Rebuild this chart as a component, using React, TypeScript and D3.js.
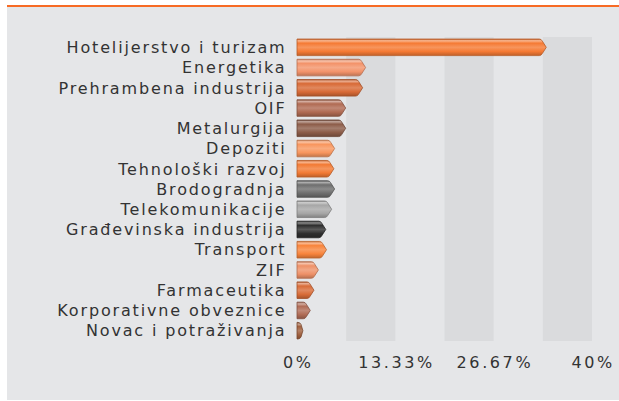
import React from "react";
import * as d3 from "d3";

const categories = [
  "Hotelijerstvo i turizam",
  "Energetika",
  "Prehrambena industrija",
  "OIF",
  "Metalurgija",
  "Depoziti",
  "Tehnološki razvoj",
  "Brodogradnja",
  "Telekomunikacije",
  "Građevinska industrija",
  "Transport",
  "ZIF",
  "Farmaceutika",
  "Korporativne obveznice",
  "Novac i potraživanja",
];
const values = [33.8, 9.3, 8.9, 6.6, 6.6, 5.1, 5.0, 5.1, 4.7, 3.9, 4.0, 2.9, 2.3, 1.8, 0.8];
const colors = [
  "#f57a34", "#f3936a", "#d86a36", "#b06a52", "#8c5c48",
  "#f8965e", "#f27a34", "#6e6e6e", "#a6a6a6", "#2e2e2e",
  "#f8843c", "#ee9168", "#d86c38", "#b06c56", "#a0603e",
];
const tickValues = [0, 13.33, 26.67, 40];
const tickLabels = ["0%", "13.33%", "26.67%", "40%"];
const bandEdges = [0, 6.667, 13.333, 20, 26.667, 33.333, 40];

const W = 619;
const H = 401;

export default function App() {
  const x = d3.scaleLinear().domain([0, 40]).range([297, 592]);
  const y = d3.scaleBand<string>().domain(categories).range([37, 341]).paddingInner(0.18).paddingOuter(0.1);
  const bh = y.bandwidth();
  const font = "'DejaVu Sans', Verdana, sans-serif";

  const barPath = (x0: number, x1: number, yy: number, h: number) => {
    const tip = Math.min(5, Math.max(0, (x1 - x0) - 3));
    const r = 2;
    return `M${x0},${yy} L${x1 - tip - r},${yy} Q${x1 - tip},${yy} ${x1 - tip + 1},${yy + 2} L${x1},${yy + h / 2} L${x1 - tip + 1},${yy + h - 2} Q${x1 - tip},${yy + h} ${x1 - tip - r},${yy + h} L${x0},${yy + h} Z`;
  };

  return (
    <svg width={W} height={H} style={{ position: "absolute", left: 0, top: 0 }} xmlns="http://www.w3.org/2000/svg">
      <defs>
        {colors.map((c, i) => {
          const base = d3.color(c)!;
          const dark = d3.color(c)!.darker(0.7).formatHex();
          const light = d3.interpolateRgb(c, "#ffffff")(0.45);
          const light2 = d3.interpolateRgb(c, "#ffffff")(0.2);
          return (
            <linearGradient key={i} id={`g${i}`} x1="0" y1="0" x2="0" y2="1">
              <stop offset="0" stopColor={dark} />
              <stop offset="0.1" stopColor={light} />
              <stop offset="0.25" stopColor={base.formatHex()} />
              <stop offset="0.5" stopColor={light2} />
              <stop offset="0.75" stopColor={base.formatHex()} />
              <stop offset="1" stopColor={dark} />
            </linearGradient>
          );
        })}
      </defs>
      <rect x={7} y={7} width={W - 7} height={393} fill="#e5e6e8" />
      <rect x={7} y={5} width={W - 7} height={2} fill="#f76b25" />
      {d3.range(0, bandEdges.length - 1).filter((i) => i % 2 === 1).map((i) => (
        <rect key={i} x={x(bandEdges[i])} y={37} width={x(bandEdges[i + 1]) - x(bandEdges[i])} height={304} fill="#dadbdd" />
      ))}
      {categories.map((c, i) => {
        const yy = y(c)!;
        const x0 = x(0);
        const x1 = x(values[i]);
        return (
          <g key={c}>
            <text x={286.5} y={yy + bh / 2} dy="0.36em" textAnchor="end" fontFamily={font} fontSize={16} letterSpacing={1.85} fill="#333">
              {c}
            </text>
            <path d={barPath(x0, x1, yy, bh)} fill={`url(#g${i})`} stroke={d3.color(colors[i])!.darker(0.8).formatHex()} strokeWidth={0.8} />
          </g>
        );
      })}
      {tickValues.map((t, i) => (
        <text key={t} x={x(t) + 1.2} y={368} textAnchor="middle" fontFamily={font} fontSize={16} letterSpacing={2.6} fill="#333">
          {tickLabels[i]}
        </text>
      ))}
    </svg>
  );
}
